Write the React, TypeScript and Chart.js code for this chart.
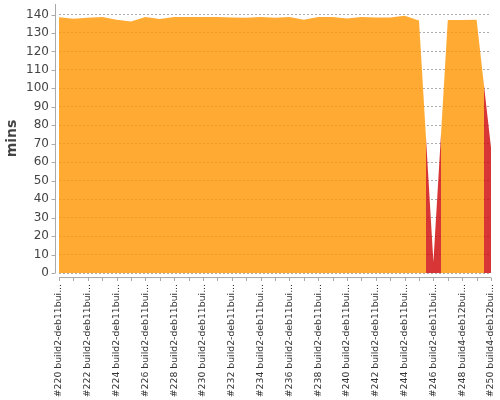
import React, { useEffect, useRef } from "react";
import { Chart, registerables } from "chart.js";

Chart.register(...registerables);

const buildNumbers = [220, 221, 222, 223, 224, 225, 226, 227, 228, 229, 230, 231, 232, 233, 234, 235, 236, 237, 238, 239, 240, 241, 242, 243, 244, 245, 246, 247, 248, 249, 250];
const buildHosts = [
  "build2-deb11bui...", "build2-deb11bui...", "build2-deb11bui...", "build2-deb11bui...",
  "build2-deb11bui...", "build2-deb11bui...", "build2-deb11bui...", "build2-deb11bui...",
  "build2-deb11bui...", "build2-deb11bui...", "build2-deb11bui...", "build2-deb11bui...",
  "build2-deb11bui...", "build2-deb11bui...", "build2-deb11bui...", "build2-deb11bui...",
  "build2-deb11bui...", "build2-deb11bui...", "build2-deb11bui...", "build2-deb11bui...",
  "build2-deb11bui...", "build2-deb11bui...", "build2-deb11bui...", "build2-deb11bui...",
  "build2-deb11bui...", "build2-deb11bui...", "build2-deb11bui...", "build4-deb12bui...",
  "build4-deb12bui...", "build4-deb12bui...", "build4-deb12bui...",
];
const durationMins = [
  138.5, 137.7, 138.2, 138.6, 137.2, 136.2, 138.6, 137.6, 138.6, 138.6,
  138.6, 138.6, 138.4, 138.3, 138.7, 138.3, 138.7, 137.2, 138.6, 138.7,
  137.8, 138.7, 138.4, 138.4, 139.4, 136.8, 6, 137.0, 137.1, 137.2, 68,
];
const buildResults = [
  "success", "success", "success", "success", "success", "success", "success", "success",
  "success", "success", "success", "success", "success", "success", "success", "success",
  "success", "success", "success", "success", "success", "success", "success", "success",
  "success", "success", "failure", "success", "success", "success", "failure",
];
const yTickValues = [0, 10, 20, 30, 40, 50, 60, 70, 80, 90, 100, 110, 120, 130, 140];
const yAxisTitle = "mins";

const categories = buildNumbers.map((n, i) => `#${n} ${buildHosts[i]}`);

const resultColors: Record<string, string> = {
  success: "rgba(255,149,0,0.8)",
  failure: "rgba(206,4,4,0.8)",
};

function makeFill(ctx: any) {
  const chart = ctx.chart;
  const area = chart.chartArea;
  const xs = chart.scales && chart.scales.x;
  if (!area || !xs) return resultColors.success;
  const g = chart.ctx.createLinearGradient(area.left, 0, area.right, 0);
  const w = area.right - area.left;
  const n = durationMins.length;
  for (let i = 0; i < n; i++) {
    const px = xs.getPixelForValue(i);
    const prev = i > 0 ? (xs.getPixelForValue(i - 1) + px) / 2 : area.left;
    const next = i < n - 1 ? (xs.getPixelForValue(i + 1) + px) / 2 : area.right;
    const c = resultColors[buildResults[i]];
    const a = Math.min(1, Math.max(0, (prev - area.left) / w));
    const b = Math.min(1, Math.max(0, (next - area.left) / w));
    g.addColorStop(a, c);
    g.addColorStop(b, c);
  }
  return g;
}

const axisPlugin = {
  id: "jfreeAxes",
  afterDraw(chart: any) {
    const { ctx, chartArea, scales } = chart;
    ctx.save();
    ctx.strokeStyle = "#aaaaaa";
    ctx.lineWidth = 1;
    ctx.beginPath();
    const ax = chartArea.left - 3.5;
    ctx.moveTo(ax, chartArea.top);
    ctx.lineTo(ax, chartArea.bottom);
    scales.y.ticks.forEach((t: any) => {
      const y = Math.round(scales.y.getPixelForValue(t.value)) + 0.5;
      ctx.moveTo(ax - 4, y);
      ctx.lineTo(ax, y);
    });
    const ay = chartArea.bottom + 4.5;
    ctx.moveTo(chartArea.left, ay);
    ctx.lineTo(chartArea.right, ay);
    for (let i = 0; i < categories.length; i++) {
      const x = Math.round(scales.x.getPixelForValue(i)) + 0.5;
      ctx.moveTo(x, ay);
      ctx.lineTo(x, ay + 3.5);
    }
    ctx.stroke();
    ctx.restore();
  },
};

export default function App() {
  const ref = useRef<HTMLCanvasElement | null>(null);
  useEffect(() => {
    if (!ref.current) return;
    Chart.defaults.font.family = "'DejaVu Sans', sans-serif";
    const chart = new Chart(ref.current, {
      type: "line",
      data: {
        labels: categories,
        datasets: [
          {
            label: yAxisTitle,
            data: durationMins,
            fill: "origin",
            backgroundColor: makeFill,
            borderWidth: 0,
            borderColor: "rgba(0,0,0,0)",
            pointRadius: 0,
            tension: 0,
          },
        ],
      },
      options: {
        responsive: false,
        animation: false,
        layout: { padding: { left: 0, top: 4, right: 9, bottom: 0 } },
        plugins: { legend: { display: false }, tooltip: { enabled: false } },
        scales: {
          x: {
            type: "category",
            offset: false,
            grid: { display: false, drawTicks: false },
            border: { display: false },
            ticks: {
              autoSkip: false,
              minRotation: 90,
              maxRotation: 90,
              padding: 11,
              color: "#333333",
              font: { size: 9.3 },
              callback: function (this: any, val: any, index: number) {
                return index % 2 === 0 ? this.getLabelForValue(val) : "";
              },
            },
            afterFit: (scale: any) => {
              scale.height = 127;
              scale.paddingLeft = 0;
              scale.paddingRight = 0;
            },
          },
          y: {
            min: 0,
            max: 145.7,
            grid: {
              color: "rgba(128,128,128,0.65)",
              lineWidth: 1,
              drawTicks: false,
            },
            border: { display: false, dash: [2, 2] },
            ticks: {
              padding: 10,
              color: "#444444",
              font: { size: 12 },
            },
            title: {
              display: true,
              text: yAxisTitle,
              color: "#444444",
              font: { size: 14, weight: "bold" },
              padding: { top: 4, bottom: 0 },
            },
            afterBuildTicks: (scale: any) => {
              scale.ticks = yTickValues.map((v) => ({ value: v }));
            },
            afterFit: (scale: any) => {
              scale.width = 59;
              scale.paddingTop = 0;
              scale.paddingBottom = 0;
            },
          },
        },
      },
      plugins: [axisPlugin],
    });
    return () => chart.destroy();
  }, []);
  return (
    <div style={{ position: "fixed", left: 0, top: 0, width: 500, height: 400, background: "#fff" }}>
      <canvas ref={ref} width={500} height={400} style={{ display: "block" }} />
    </div>
  );
}
